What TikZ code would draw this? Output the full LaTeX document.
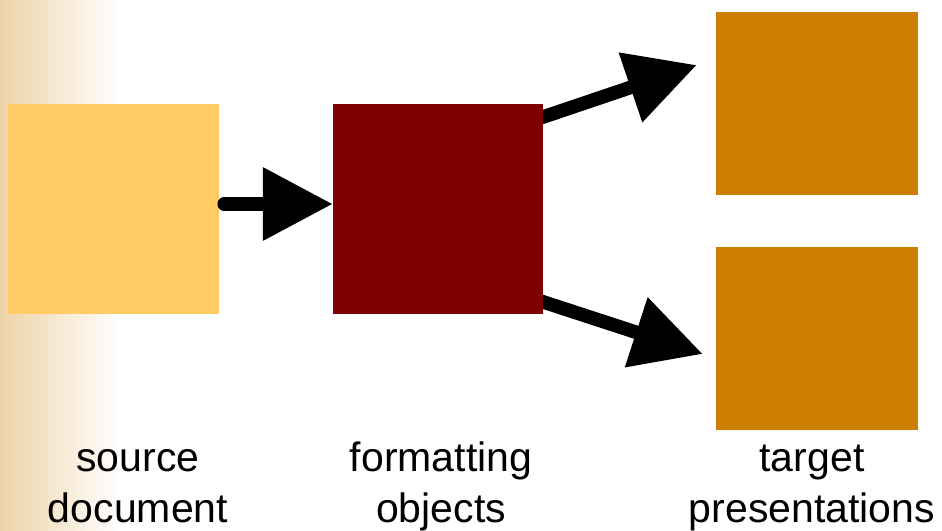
\documentclass[tikz,border=0pt]{standalone}
\usepackage{fontspec}
\setmainfont{Liberation Sans}
\usepackage{xcolor}
\usetikzlibrary{positioning, arrows.meta, backgrounds}

\definecolor{srcyellow}{RGB}{255,204,102}
\definecolor{fmtred}{RGB}{128,0,0}
\definecolor{tgtorange}{RGB}{204,127,0}
\definecolor{bgtan}{RGB}{238,211,168}

\begin{document}
\begin{tikzpicture}[
    block/.style={rectangle, inner sep=0pt, minimum width=6.3cm, minimum height=6.3cm},
    tgtblock/.style={block, fill=tgtorange, minimum width=6.06cm, minimum height=5.49cm},
    arr/.style={-{Triangle[length=2.1cm, width=2.1cm]}, line width=0.41cm},
    lbl/.style={font=\fontsize{35}{42.7}\selectfont, align=center, anchor=base, inner sep=0pt},
]

\useasboundingbox (0, 0) rectangle (28.26, -15.9);
\shade[left color=bgtan, right color=white] (0, 0) rectangle (3.6, -15.9);

\node[block, fill=srcyellow, minimum width=6.33cm] (src) at (3.405, -6.27) {};
\node[block, fill=fmtred] (fmt) at (13.14, -6.27) {};
\node[tgtblock] (tgtA) at (24.51, -3.105) {};
\node[tgtblock] (tgtB) at (24.51, -10.155) {};

\draw[arr, line cap=round] ([xshift=0.15cm, yshift=0.15cm]src.east) -- ([yshift=0.15cm]fmt.west);

\begin{scope}[on background layer]
\draw[arr] ([xshift=-0.3cm, yshift=2.66cm]fmt.east) -- ([xshift=-0.57cm, yshift=1.155cm]tgtA.west);
\draw[arr] ([xshift=-0.3cm, yshift=-2.69cm]fmt.east) -- ([xshift=-0.39cm, yshift=-0.465cm]tgtB.west);
\end{scope}

\node[lbl] (srclbl) at (4.14, -15.66) {source\\document};
\node[lbl] (fmtlbl) at (13.23, -15.66) {formatting\\objects};
\node[lbl] (tgtlbl) at (24.36, -15.66) {target\\presentations};

\end{tikzpicture}
\end{document}
